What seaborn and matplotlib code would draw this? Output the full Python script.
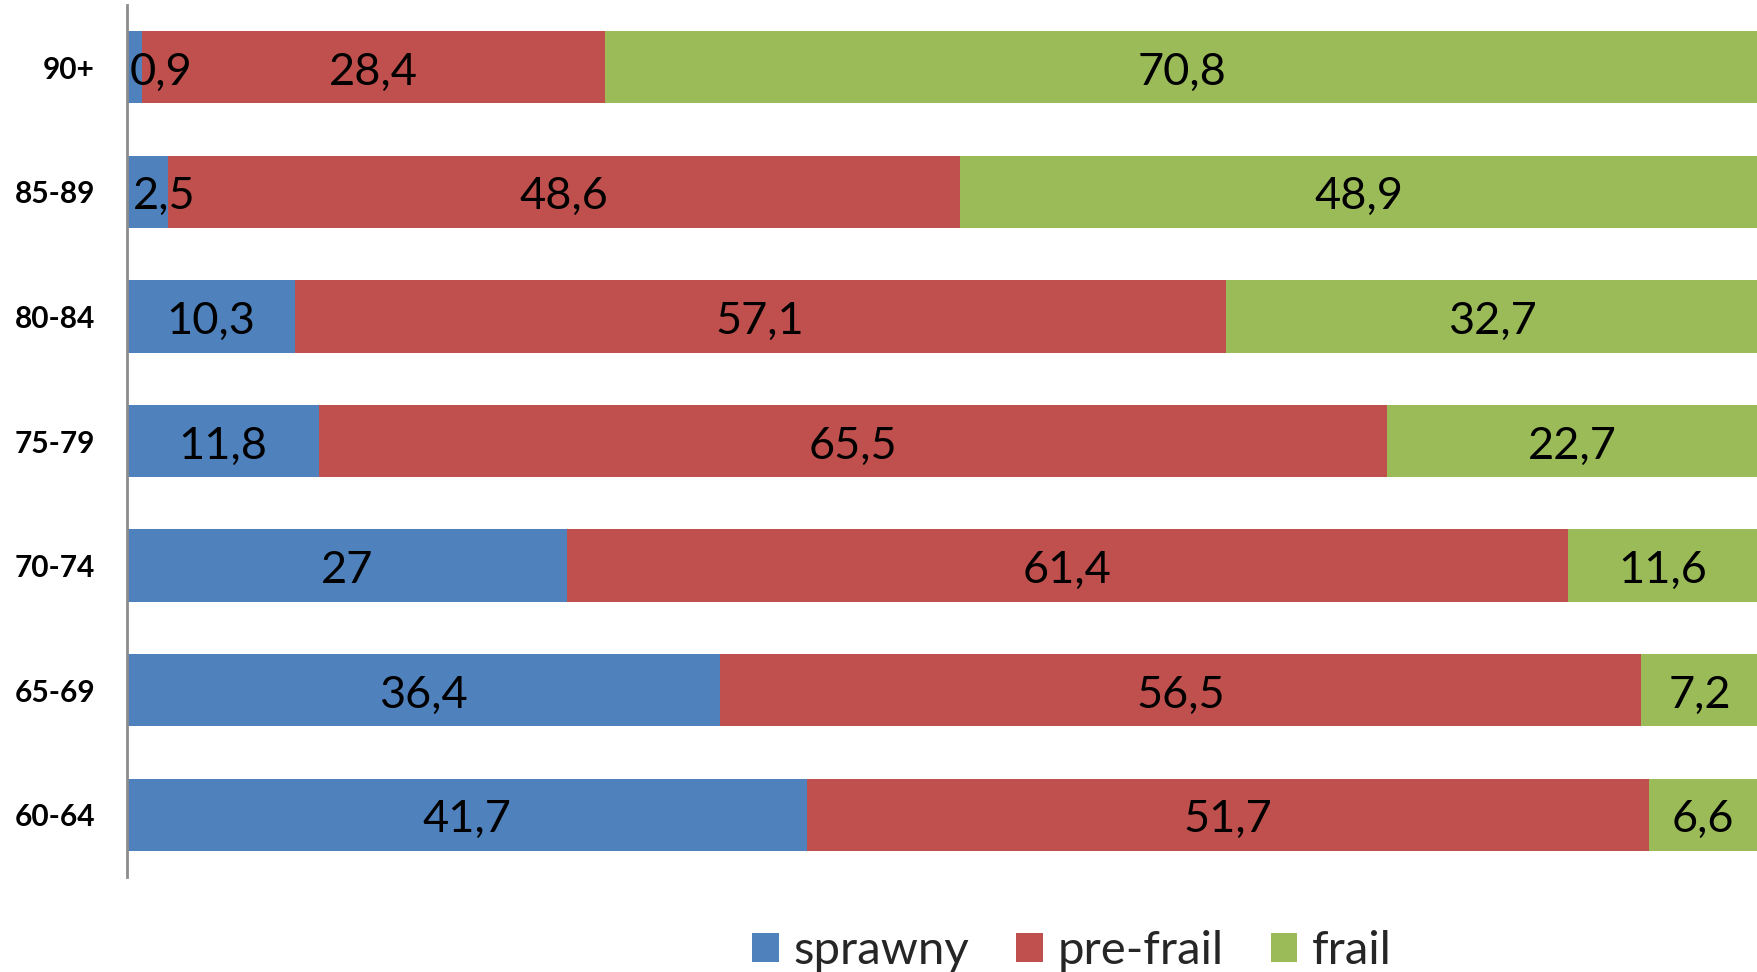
import numpy as np
import pandas as pd
import matplotlib
matplotlib.use("Agg")
import matplotlib.pyplot as plt
import seaborn as sns
from matplotlib.patches import Patch

# Age groups, top to bottom
age_groups = ["90+", "85-89", "80-84", "75-79", "70-74", "65-69", "60-64"]
sprawny = [0.9, 2.5, 10.3, 11.8, 27, 36.4, 41.7]
pre_frail = [28.4, 48.6, 57.1, 65.5, 61.4, 56.5, 51.7]
frail = [70.8, 48.9, 32.7, 22.7, 11.6, 7.2, 6.6]
series_names = ["sprawny", "pre-frail", "frail"]
colors = ["#4F81BD", "#C0504D", "#9BBB59"]

sns.set_theme(style="white")
plt.rcParams["font.family"] = ["Lato", "DejaVu Sans"]

df = pd.DataFrame({"age": age_groups, "sprawny": sprawny,
                   "pre-frail": pre_frail, "frail": frail})
df["c1"] = df["sprawny"]
df["c2"] = df["c1"] + df["pre-frail"]
df["c3"] = df["c2"] + df["frail"]

fig = plt.figure(figsize=(17.57, 9.72), dpi=100)
ax = fig.add_axes([127 / 1757, 1 - 877 / 972, 1 - 127 / 1757, 872 / 972])

# Stacked bars drawn as cumulative layers, widest first
for col, color in zip(["c3", "c2", "c1"], colors[::-1]):
    sns.barplot(data=df, x=col, y="age", order=age_groups, color=color,
                width=0.58, ax=ax, saturation=1, linewidth=0)

ax.set_xlim(0, 100)
ax.set_xlabel("")
ax.set_ylabel("")
ax.set_xticks([])
for s in ["top", "right", "bottom"]:
    ax.spines[s].set_visible(False)
ax.spines["left"].set_color("#8c8c8c")
ax.spines["left"].set_linewidth(2)
ax.tick_params(axis="y", length=0, pad=23)
for lbl in ax.get_yticklabels():
    lbl.set_fontsize(21.5)
    lbl.set_fontweight("bold")
    lbl.set_color("black")

# Value labels centred in each segment (narrow segments nudged inward)
for i, row in df.iterrows():
    starts = [0, row["c1"], row["c2"]]
    vals = [row["sprawny"], row["pre-frail"], row["frail"]]
    for st, v in zip(starts, vals):
        x = max(st + v / 2, 2.0 + v * 0.12)
        txt = f"{v:g}".replace(".", ",")
        ax.text(x, i + 0.04, txt, ha="center", va="center", fontsize=32.5,
                color="black")

handles = [Patch(facecolor=c, edgecolor="none") for c in colors]
fig.legend(handles, series_names, loc="center",
           bbox_to_anchor=(0.61, 1 - 951 / 972), ncol=3, frameon=False,
           fontsize=34, handlelength=0.57, handleheight=0.57,
           handletextpad=0.3, columnspacing=1.0, borderpad=0)

fig.savefig("out.png", dpi=100)
